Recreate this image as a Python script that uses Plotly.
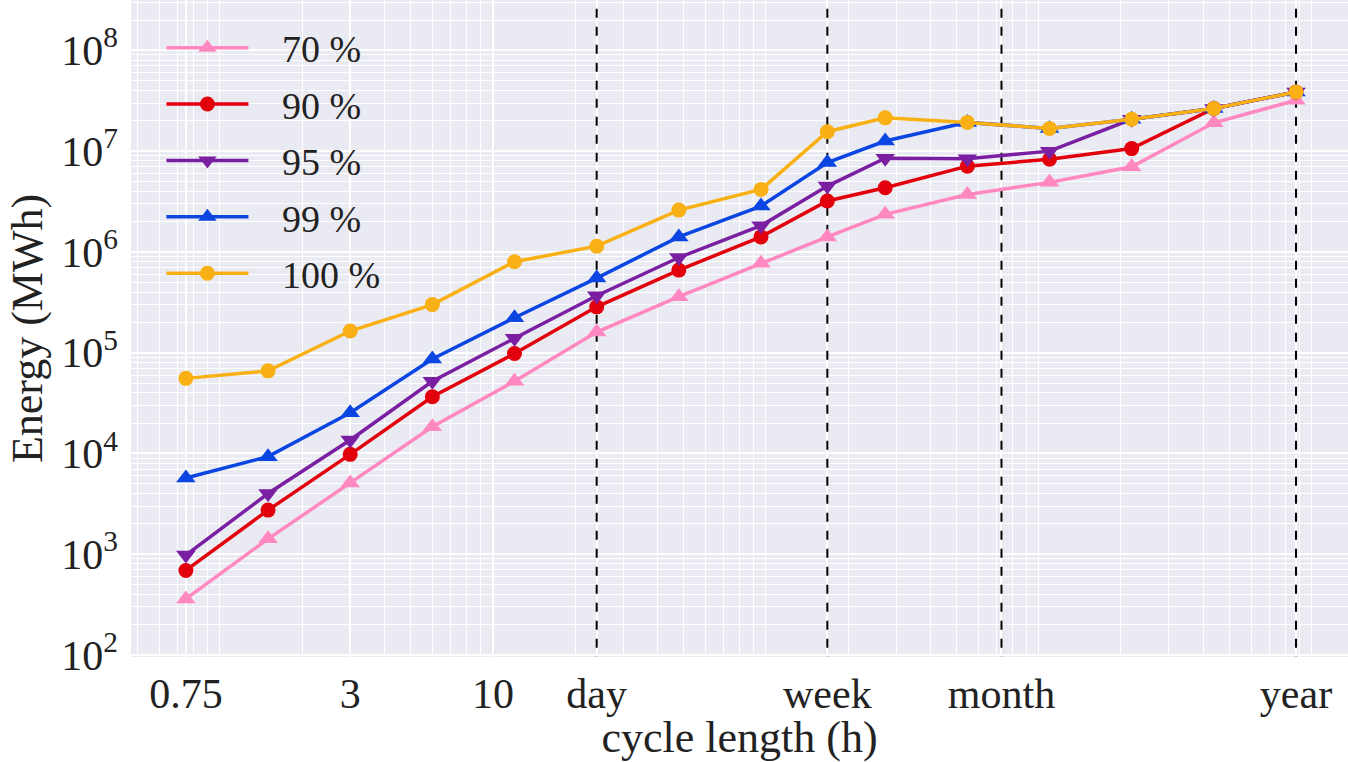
import numpy as np
import plotly.graph_objects as go

# cycle length in hours
cycle_h = [0.75, 1.5, 3, 6, 12, 24, 48, 96, 168, 273.75, 547.5, 1095, 2190, 4380, 8760]

e70 = [3.6e2, 1.42e3, 5.1e3, 1.84e4, 5.2e4, 1.6e5, 3.6e5, 7.7e5, 1.41e6, 2.36e6, 3.72e6, 4.9e6, 7.0e6, 1.91e7, 3.2e7]
e90 = [6.9e2, 2.74e3, 9.8e3, 3.65e4, 9.8e4, 2.85e5, 6.6e5, 1.41e6, 3.2e6, 4.33e6, 7.1e6, 8.3e6, 1.06e7, 2.65e7, 3.87e7]
e95 = [9.8e2, 4.0e3, 1.36e4, 5.2e4, 1.39e5, 3.67e5, 8.8e5, 1.82e6, 4.5e6, 8.5e6, 8.4e6, 1.0e7, 2.07e7, 2.65e7, 3.87e7]
e99 = [5.7e3, 9.3e3, 2.53e4, 8.65e4, 2.22e5, 5.5e5, 1.41e6, 2.85e6, 7.7e6, 1.26e7, 1.93e7, 1.68e7, 2.07e7, 2.65e7, 3.87e7]
e100 = [5.56e4, 6.6e4, 1.64e5, 3.0e5, 8.0e5, 1.14e6, 2.6e6, 4.17e6, 1.56e7, 2.14e7, 1.93e7, 1.68e7, 2.07e7, 2.65e7, 3.87e7]

series_names = ["70 %", "90 %", "95 %", "99 %", "100 %"]
series_values = [e70, e90, e95, e99, e100]
series_colors = ["#FF88C0", "#E2000C", "#7A1FA2", "#0B45E2", "#F9B014"]
series_symbols = ["triangle-up", "circle", "triangle-down", "triangle-up", "circle"]

x_tickvals = [0.75, 3, 10, 24, 168, 730, 8760]
x_ticktext = ["0.75", "3", "10", "day", "week", "month", "year"]
marker_lines = [24, 168, 730, 8760]

y_tickvals = [1e2, 1e3, 1e4, 1e5, 1e6, 1e7, 1e8]
y_ticktext = ["10<sup>%d</sup>" % int(np.log10(v)) for v in y_tickvals]

FONT = "Liberation Serif"
fig = go.Figure()

for v in marker_lines:
    fig.add_trace(go.Scatter(x=[v, v], y=[1e1, 1e9], mode="lines",
                             line=dict(color="black", width=2, dash="dash"),
                             showlegend=False, hoverinfo="skip"))

for name, vals, col, sym in zip(series_names, series_values, series_colors, series_symbols):
    size = 15 if sym == "circle" else 17
    fig.add_trace(go.Scatter(x=cycle_h, y=vals, mode="lines+markers",
                             name="\u00a0\u00a0\u00a0" + name,
                             legendgroup=name,
                             line=dict(color=col, width=3.5),
                             marker=dict(symbol=sym, size=size, color=col)))

fig.update_layout(
    width=1348, height=762,
    margin=dict(l=131, r=0, t=0, b=105),
    paper_bgcolor="white", plot_bgcolor="#EAEAF2",
    font=dict(family=FONT, size=42, color="#222222"),
    legend=dict(x=0.025, y=0.975, xanchor="left", yanchor="top",
                bgcolor="rgba(0,0,0,0)", font=dict(size=38),
                tracegroupgap=4, itemwidth=82),
    showlegend=True,
)

fig.update_xaxes(type="log", range=[-0.326, 4.133],
                 tickmode="array", tickvals=x_tickvals, ticktext=x_ticktext,
                 showgrid=True, gridcolor="white", gridwidth=2,
                 minor=dict(dtick="D1", showgrid=True, gridcolor="white", gridwidth=1.3),
                 zeroline=False, showline=False, ticks="", ticklabelstandoff=8,
                 tickfont=dict(size=42),
                 title=dict(text="cycle length (h)", standoff=4, font=dict(size=44)))
fig.update_yaxes(type="log", range=[1.98, 8.5],
                 tickmode="array", tickvals=y_tickvals, ticktext=y_ticktext,
                 showgrid=True, gridcolor="white", gridwidth=2,
                 minor=dict(dtick="D1", showgrid=True, gridcolor="white", gridwidth=1.3),
                 zeroline=False, showline=False, ticks="", ticklabelstandoff=12,
                 tickfont=dict(size=42),
                 title=dict(text="Energy (MWh)", standoff=4, font=dict(size=44)))

fig.write_html("out.html")
